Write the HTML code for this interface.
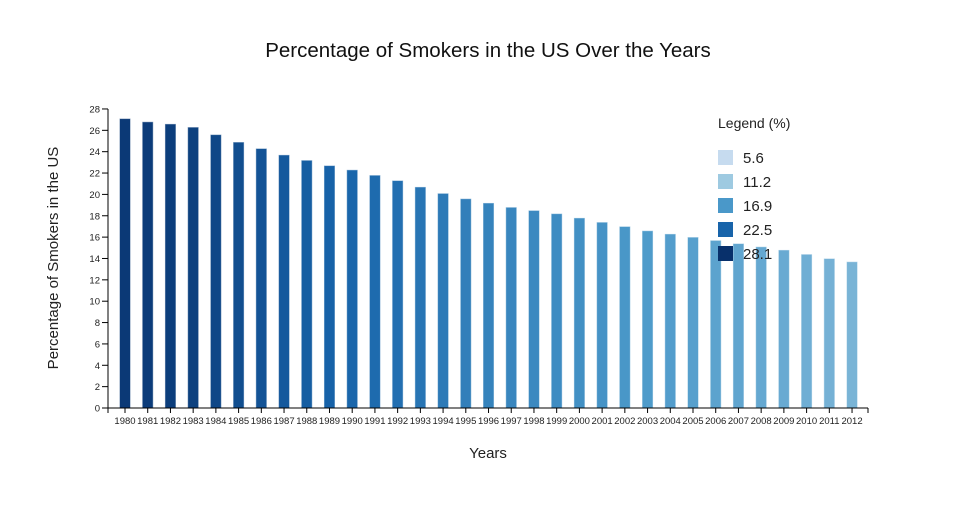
<!DOCTYPE html>
<html><head><meta charset="utf-8"><style>
body{margin:0;background:#fff;}
svg{font-family:"Liberation Sans",sans-serif;}
</style></head><body>
<svg id="s" width="960" height="500" xmlns="http://www.w3.org/2000/svg"></svg>
<script>
const vals=[27.1,26.8,26.6,26.3,25.6,24.9,24.3,23.7,23.2,22.7,22.3,21.8,21.3,20.7,20.1,19.6,19.2,18.8,18.5,18.2,17.8,17.4,17.0,16.6,16.3,16.0,15.7,15.4,15.1,14.8,14.4,14.0,13.7];
const stops=[[5.6,[198,219,239]],[11.2,[158,202,225]],[16.9,[74,152,201]],[22.5,[24,100,170]],[28.1,[8,48,107]]];
function col(v){for(let i=0;i<stops.length-1;i++){const a=stops[i],b=stops[i+1];if(v<=b[0]){const t=(v-a[0])/(b[0]-a[0]);return 'rgb('+a[1].map((c,k)=>Math.round(c+(b[1][k]-c)*t)).join(',')+')';}}return 'rgb(8,48,107)';}
const y0=408,k=10.68,ax=108;
let h='';
h+='<text x="488" y="57" text-anchor="middle" font-size="20.5" fill="#111">Percentage of Smokers in the US Over the Years</text>';
vals.forEach((v,i)=>{const cx=125+i*22.72,t=y0-v*k;
h+=`<rect x="${cx-5.5}" y="${t}" width="11" height="${v*k}" fill="${col(v)}" stroke="rgba(255,255,255,0.5)" stroke-width="1"/>`;
h+=`<line x1="${cx}" y1="${y0}" x2="${cx}" y2="${y0+5}" stroke="#000"/>`;
h+=`<text x="${cx}" y="424" text-anchor="middle" font-size="9.5" fill="#222">${1980+i}</text>`;});
h+=`<line x1="${ax}" y1="${y0}" x2="868" y2="${y0}" stroke="#000"/>`;
h+=`<line x1="${ax}" y1="${y0}" x2="${ax}" y2="${y0+5}" stroke="#000"/><line x1="868" y1="${y0}" x2="868" y2="${y0+5}" stroke="#000"/>`;
h+=`<line x1="${ax}" y1="109" x2="${ax}" y2="${y0}" stroke="#000"/>`;
for(let v=0;v<=28;v+=2){const y=y0-v*k;h+=`<line x1="${ax-6}" y1="${y}" x2="${ax}" y2="${y}" stroke="#000"/><text x="${ax-8}" y="${y+3.5}" text-anchor="end" font-size="9.5" fill="#222">${v}</text>`;}
h+='<text x="488" y="458" text-anchor="middle" font-size="15" fill="#222">Years</text>';
h+='<text transform="translate(58,258) rotate(-90)" text-anchor="middle" font-size="15" fill="#222">Percentage of Smokers in the US</text>';
h+='<text x="718" y="128" font-size="14" fill="#222">Legend (%)</text>';
const lg=[['5.6','rgb(198,219,239)'],['11.2','rgb(158,202,225)'],['16.9','rgb(74,152,201)'],['22.5','rgb(24,100,170)'],['28.1','rgb(8,48,107)']];
lg.forEach((l,i)=>{const y=150+i*24;h+=`<rect x="718" y="${y}" width="15" height="15" fill="${l[1]}"/><text x="743" y="${y+13}" font-size="15" fill="#222">${l[0]}</text>`;});
document.getElementById('s').innerHTML=h;
</script>
</body></html>
